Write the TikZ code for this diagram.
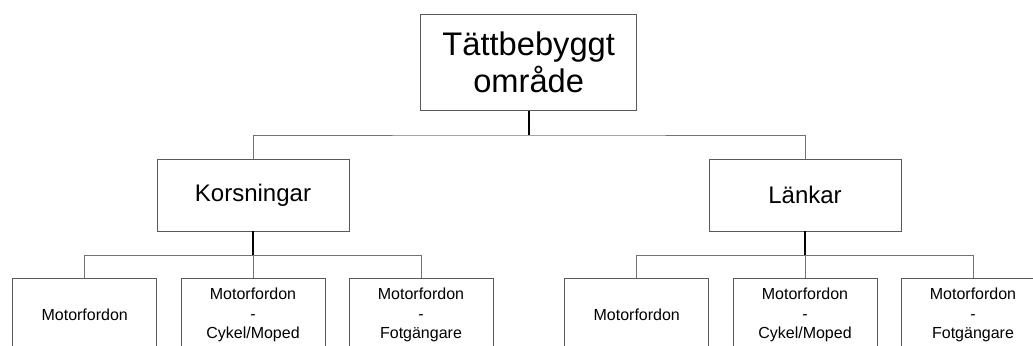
\documentclass[tikz,border=0pt]{standalone}
\usepackage{fontspec}
\setmainfont{Liberation Sans}
\usetikzlibrary{positioning}

\begin{document}
\begin{tikzpicture}[x=0.75pt,y=-0.75pt,
    box/.style={draw=black!65, line width=0.65pt, inner sep=0pt, align=center},
    link/.style={draw=black!55, line width=0.7pt},
    stub/.style={draw=black, line width=1.3pt},
    leaf/.style={box, minimum width=108pt, minimum height=54.5pt,
        font=\fontsize{12}{14.5}\selectfont}]

    % fix the page to the size of the reference
    \useasboundingbox (0,0) rectangle (1033,346);

    % top of the tree
    \node[box, minimum width=162pt, minimum height=72pt,
        font=\fontsize{24.5}{27.75}\selectfont] (top) at (528.7,62.7) {Tättbebyggt\\område};

    % second level
    \node[box, minimum width=144pt, minimum height=54pt,
        font=\fontsize{18}{21}\selectfont] (kors) at (253,195) {Korsningar};
    \node[box, minimum width=144pt, minimum height=54pt,
        font=\fontsize{18}{21}\selectfont] (lank) at (805,195) {Länkar};

    \coordinate (topj) at (528.7,135);
    \draw[stub] (top.south) -- (topj);
    \draw[link] (kors.north) |- (topj) -| (lank.north);

    % leaves under each group
    \foreach \grp in {kors,lank} {
        \node[leaf, xshift=-126.2pt, yshift=-90pt] (\grp1) at (\grp) {Motorfordon};
        \node[leaf, yshift=-90pt] (\grp2) at (\grp) {Motorfordon\\-\\Cykel/Moped};
        \node[leaf, xshift=126pt, yshift=-90pt] (\grp3) at (\grp) {Motorfordon\\-\\Fotgängare};
        \coordinate[yshift=-45.2pt] (\grp j) at (\grp);
        \draw[stub] (\grp.south) -- (\grp j);
        \draw[link] (\grp1.north) |- (\grp j) -| (\grp3.north);
        \draw[link] (\grp j) -- (\grp2.north);
    }

\end{tikzpicture}
\end{document}
